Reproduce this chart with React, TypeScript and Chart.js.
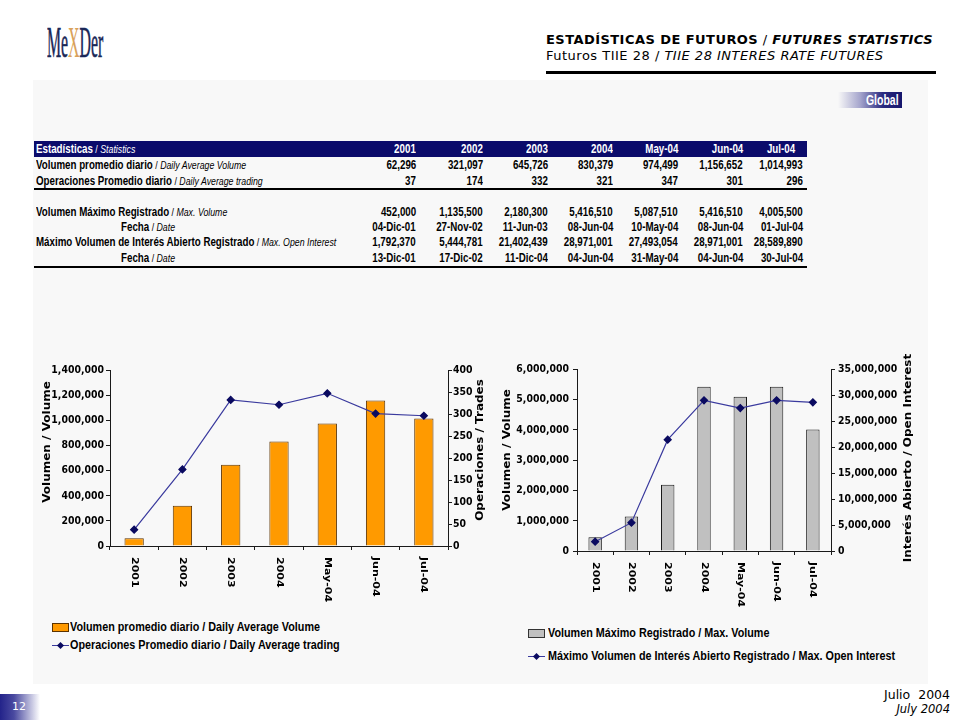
import React, { useEffect, useRef } from "react";
import { Chart, registerables } from "chart.js";

Chart.register(...registerables);

// ---------------- data ----------------
const categories = ["2001", "2002", "2003", "2004", "May-04", "Jun-04", "Jul-04"];
const dailyAvgVolume = [62296, 321097, 645726, 830379, 974499, 1156652, 1014993];
const dailyAvgTrading = [37, 174, 332, 321, 347, 301, 296];
const maxVolume = [452000, 1135500, 2180300, 5416510, 5087510, 5416510, 4005500];
const maxVolumeDate = ["04-Dic-01", "27-Nov-02", "11-Jun-03", "08-Jun-04", "10-May-04", "08-Jun-04", "01-Jul-04"];
const maxOpenInterest = [1792370, 5444781, 21402439, 28971001, 27493054, 28971001, 28589890];
const maxOpenInterestDate = ["13-Dic-01", "17-Dic-02", "11-Dic-04", "04-Jun-04", "31-May-04", "04-Jun-04", "30-Jul-04"];

const rowLabelsEs = [
  "Volumen promedio diario",
  "Operaciones Promedio diario",
  "Volumen Máximo Registrado",
  "Fecha",
  "Máximo Volumen de Interés Abierto Registrado",
  "Fecha",
];
const rowLabelsEn = [
  "Daily Average Volume",
  "Daily Average trading",
  "Max. Volume",
  "Date",
  "Max. Open Interest",
  "Date",
];

// axis ranges (ticks generated by Chart.js from these)
const leftVolMax = 1400000, leftVolStep = 200000;
const leftTradesMax = 400, leftTradesStep = 50;
const rightVolMax = 6000000, rightVolStep = 1000000;
const rightOIMax = 35000000, rightOIStep = 5000000;

// ---------------- helpers ----------------
const SANS = '"DejaVu Sans", Verdana, sans-serif';
const NARROW = '"Liberation Sans", Arial, sans-serif';
const NAVY = "#0b0b6b";
const SQ = 0.85;

const fmt = (n: number) => n.toLocaleString("en-US");

function drawText(
  ctx: CanvasRenderingContext2D,
  text: string,
  x: number,
  y: number,
  font: string,
  align: CanvasTextAlign,
  rot: number,
  sx: number,
  sy: number
) {
  ctx.save();
  ctx.translate(x, y);
  if (rot) ctx.rotate(rot);
  ctx.scale(sx, sy);
  ctx.font = font;
  ctx.fillStyle = "#000";
  ctx.textAlign = align;
  ctx.textBaseline = "middle";
  ctx.fillText(text, 0, 0);
  ctx.restore();
}

type ComboProps = {
  left: number;
  top: number;
  width: number;
  height: number;
  bars: number[];
  line: number[];
  barColor: string;
  barBorder: string;
  barPct: number;
  yMax: number;
  yStep: number;
  y1Max: number;
  y1Step: number;
  yW: number;
  y1W: number;
  padTop: number;
  padBottom: number;
  leftTitle: string;
  rightTitle: string;
  lt: [number, number];
  rt: [number, number];
  gapL: number;
  gapR: number;
  labelGap: number;
};

function ComboChart(p: ComboProps) {
  const ref = useRef<HTMLCanvasElement | null>(null);
  useEffect(() => {
    if (!ref.current) return;
    const axisColor = "#1a1a1a";
    const textPlugin = {
      id: "customText",
      afterDraw(chart: any) {
        const ctx = chart.ctx as CanvasRenderingContext2D;
        const ca = chart.chartArea;
        const xs = chart.scales.x;
        const ys = chart.scales.y;
        const y1 = chart.scales.y1;
        const tickFont = `bold 11px ${SANS}`;
        ys.ticks.forEach((t: any) => {
          drawText(ctx, fmt(t.value), ca.left - p.gapL, ys.getPixelForValue(t.value), tickFont, "right", 0, SQ, 1);
        });
        y1.ticks.forEach((t: any) => {
          drawText(ctx, fmt(t.value), ca.right + p.gapR, y1.getPixelForValue(t.value), tickFont, "left", 0, SQ, 1);
        });
        categories.forEach((c, i) => {
          drawText(ctx, c, xs.getPixelForTick(i), ca.bottom + p.labelGap, `bold 11px ${SANS}`, "left", Math.PI / 2, 1, SQ);
        });
        drawText(ctx, p.leftTitle, p.lt[0], p.lt[1], `bold 12px ${SANS}`, "center", -Math.PI / 2, 1, SQ);
        drawText(ctx, p.rightTitle, p.rt[0], p.rt[1], `bold 12px ${SANS}`, "center", -Math.PI / 2, 1, SQ);
      },
    };
    const chart = new Chart(ref.current, {
      type: "bar",
      data: {
        labels: categories,
        datasets: [
          {
            type: "line",
            data: p.line,
            yAxisID: "y1",
            borderColor: "#3a3a9e",
            borderWidth: 1.2,
            pointStyle: "rectRot",
            pointRadius: 3.5,
            pointBackgroundColor: "#0a0a60",
            pointBorderColor: "#0a0a60",
            tension: 0,
            order: 0,
          } as any,
          {
            type: "bar",
            data: p.bars,
            yAxisID: "y",
            backgroundColor: p.barColor,
            borderColor: p.barBorder,
            borderWidth: 1,
            barPercentage: p.barPct,
            categoryPercentage: 1,
            order: 1,
          } as any,
        ],
      },
      options: {
        animation: false,
        responsive: false,
        maintainAspectRatio: false,
        devicePixelRatio: 1,
        events: [],
        layout: { padding: { top: p.padTop, bottom: p.padBottom, left: 0, right: 0 } },
        plugins: { legend: { display: false }, tooltip: { enabled: false } },
        scales: {
          x: {
            type: "category",
            offset: true,
            grid: { offset: true, drawOnChartArea: false, drawTicks: true, tickLength: 4, color: axisColor },
            border: { display: true, color: axisColor, width: 1 },
            ticks: { display: false },
            afterFit: (s: any) => {
              s.height = 4;
            },
          },
          y: {
            position: "left",
            min: 0,
            max: p.yMax,
            ticks: { display: false, stepSize: p.yStep },
            grid: { drawOnChartArea: false, drawTicks: true, tickLength: 4, color: axisColor },
            border: { display: true, color: axisColor, width: 1 },
            afterFit: (s: any) => {
              s.width = p.yW;
            },
          },
          y1: {
            position: "right",
            min: 0,
            max: p.y1Max,
            ticks: { display: false, stepSize: p.y1Step },
            grid: { drawOnChartArea: false, drawTicks: true, tickLength: 4, color: axisColor },
            border: { display: true, color: axisColor, width: 1 },
            afterFit: (s: any) => {
              s.width = p.y1W;
            },
          },
        },
      } as any,
      plugins: [textPlugin as any],
    });
    return () => chart.destroy();
  }, []);
  return (
    <canvas
      ref={ref}
      width={p.width}
      height={p.height}
      style={{ position: "absolute", left: p.left, top: p.top, width: p.width, height: p.height, display: "block" }}
    />
  );
}

function Txt(props: any) {
  const {
    x,
    y,
    children,
    align = "left",
    size = 12.5,
    bold = false,
    italic = false,
    color = "#000",
    sx = 0.78,
    family = NARROW,
    lh = 16,
    ls = 0,
  } = props;
  const style: React.CSSProperties = {
    position: "absolute",
    top: y - lh / 2,
    height: lh,
    lineHeight: lh + "px",
    fontFamily: family,
    fontSize: size,
    fontWeight: bold ? 700 : 400,
    fontStyle: italic ? "italic" : "normal",
    color,
    whiteSpace: "pre",
    letterSpacing: ls,
    transform: `scaleX(${sx})`,
    transformOrigin: align === "left" ? "left center" : "right center",
  };
  if (align === "left") style.left = x;
  else style.right = 960 - x;
  return <div style={style}>{children}</div>;
}

const EnPart = ({ children }: any) => (
  <span style={{ fontWeight: 400, fontSize: "0.9em" }}>
    {" / "}
    <i>{children}</i>
  </span>
);

const colRight = [416, 483, 548, 613, 678, 743, 803];
const headerRight = [416, 483, 548, 613, 678, 743, 795];
const rowY = [165, 181, 212, 227, 242, 258];
const rowX = [36, 36, 36, 121, 36, 121];
const rowValues: string[][] = [
  dailyAvgVolume.map(fmt),
  dailyAvgTrading.map(fmt),
  maxVolume.map(fmt),
  maxVolumeDate,
  maxOpenInterest.map(fmt),
  maxOpenInterestDate,
];

function StatsTable() {
  return (
    <>
      <div style={{ position: "absolute", left: 34, top: 141, width: 773, height: 16, background: NAVY }} />
      <Txt x={36} y={149} bold color="#fff">
        Estadísticas<EnPart>Statistics</EnPart>
      </Txt>
      {categories.map((c, i) => (
        <Txt key={"h" + i} x={headerRight[i]} y={149} align="right" bold color="#fff">
          {c}
        </Txt>
      ))}
      {rowLabelsEs.map((es, r) => (
        <Txt key={"l" + r} x={rowX[r]} y={rowY[r]} bold>
          {es}
          <EnPart>{rowLabelsEn[r]}</EnPart>
        </Txt>
      ))}
      {rowValues.map((vals, r) =>
        vals.map((v, i) => (
          <Txt key={"v" + r + "_" + i} x={colRight[i]} y={rowY[r]} align="right" bold>
            {v}
          </Txt>
        ))
      )}
      <div style={{ position: "absolute", left: 34, top: 188, width: 773, height: 2, background: "#000" }} />
      <div style={{ position: "absolute", left: 34, top: 266, width: 773, height: 2, background: "#000" }} />
    </>
  );
}

function Swatch({ x, y, color, border }: any) {
  return (
    <div
      style={{
        position: "absolute",
        left: x,
        top: y - 4,
        width: 15,
        height: 7,
        background: color,
        border: `1px solid ${border}`,
      }}
    />
  );
}

function LineIcon({ x, y }: any) {
  return (
    <>
      <div style={{ position: "absolute", left: x, top: y, width: 17, height: 1, background: "#3a3a9e" }} />
      <div
        style={{
          position: "absolute",
          left: x + 6,
          top: y - 2,
          width: 5,
          height: 5,
          background: "#0a0a60",
          transform: "rotate(45deg)",
        }}
      />
    </>
  );
}

export default function App() {
  return (
    <div
      style={{
        position: "absolute",
        left: 0,
        top: 0,
        width: 960,
        height: 720,
        background: "#fff",
        overflow: "hidden",
        fontFamily: SANS,
      }}
    >
      {/* logo */}
      <div
        style={{
          position: "absolute",
          left: 47,
          top: 19,
          height: 48,
          lineHeight: "48px",
          fontFamily: '"Liberation Serif", "DejaVu Serif", serif',
          fontSize: 44,
          color: "#1a2858",
          whiteSpace: "nowrap",
          transform: "scaleX(0.36)",
          transformOrigin: "left top",
          WebkitTextStroke: "0.6px #1a2858",
        }}
      >
        Me<span style={{ color: "#d9a25a", WebkitTextStroke: "0px" }}>X</span>Der
      </div>

      {/* header */}
      <Txt x={546} y={40} family={SANS} size={13} sx={1} ls={0.45} bold>
        ESTADÍSTICAS DE FUTUROS<span style={{ fontWeight: 400 }}> / </span>
        <i>FUTURES STATISTICS</i>
      </Txt>
      <Txt x={546} y={56} family={SANS} size={13} sx={1} ls={0.5}>
        Futuros TIIE 28 / <i>TIIE 28 INTERES RATE FUTURES</i>
      </Txt>
      <div style={{ position: "absolute", left: 546, top: 71, width: 390, height: 3, background: "#000" }} />

      {/* panel */}
      <div style={{ position: "absolute", left: 33, top: 80, width: 895, height: 604, background: "#f8f8f8" }} />

      {/* Global badge */}
      <div
        style={{
          position: "absolute",
          left: 838,
          top: 92,
          width: 64,
          height: 16,
          background: "linear-gradient(to right, rgba(255,255,255,0) 0%, #a4a4cc 35%, #2a2a80 70%, #16166c 100%)",
        }}
      />
      <Txt x={899} y={100} align="right" bold color="#fff" size={14} sx={0.75}>
        Global
      </Txt>

      <StatsTable />

      {/* charts */}
      <ComboChart
        left={35}
        top={355}
        width={460}
        height={255}
        bars={dailyAvgVolume}
        line={dailyAvgTrading}
        barColor="#ff9a00"
        barBorder="#5c3300"
        barPct={0.4}
        yMax={leftVolMax}
        yStep={leftVolStep}
        y1Max={leftTradesMax}
        y1Step={leftTradesStep}
        yW={75}
        y1W={47}
        padTop={15}
        padBottom={60}
        leftTitle="Volumen / Volume"
        rightTitle="Operaciones / Trades"
        lt={[12, 87]}
        rt={[445, 95]}
        gapL={6}
        gapR={5}
        labelGap={11}
      />
      <ComboChart
        left={495}
        top={345}
        width={430}
        height={270}
        bars={maxVolume}
        line={maxOpenInterest}
        barColor="#c0c0c0"
        barBorder="#1a1a1a"
        barPct={0.37}
        yMax={rightVolMax}
        yStep={rightVolStep}
        y1Max={rightOIMax}
        y1Step={rightOIStep}
        yW={82}
        y1W={94}
        padTop={24}
        padBottom={60}
        leftTitle="Volumen / Volume"
        rightTitle="Interés Abierto / Open Interest"
        lt={[12, 105]}
        rt={[413, 113]}
        gapL={8}
        gapR={7}
        labelGap={11}
      />

      {/* legends */}
      <Swatch x={52} y={627} color="#ff9a00" border="#5c3300" />
      <Txt x={70} y={627} bold size={13} sx={0.83}>
        Volumen promedio diario / Daily Average Volume
      </Txt>
      <LineIcon x={52} y={645} />
      <Txt x={70} y={645} bold size={13} sx={0.83}>
        Operaciones Promedio diario / Daily Average trading
      </Txt>

      <Swatch x={528} y={633} color="#c0c0c0" border="#333" />
      <Txt x={548} y={633} bold size={13} sx={0.83}>
        Volumen Máximo Registrado / Max. Volume
      </Txt>
      <LineIcon x={528} y={656} />
      <Txt x={548} y={656} bold size={13} sx={0.83}>
        Máximo Volumen de Interés Abierto Registrado / Max. Open Interest
      </Txt>

      {/* footer */}
      <div
        style={{
          position: "absolute",
          left: 0,
          top: 694,
          width: 40,
          height: 26,
          background: "linear-gradient(to right, #23238a 0%, #4a4aa0 35%, #ffffff 100%)",
        }}
      />
      <Txt x={12} y={707} family={SANS} size={11} sx={1} color="#fff">
        12
      </Txt>
      <Txt x={950} y={695} align="right" family={SANS} size={12.5} sx={1}>
        {"Julio  2004"}
      </Txt>
      <Txt x={950} y={709} align="right" family={SANS} size={11.5} sx={1} italic>
        July 2004
      </Txt>
    </div>
  );
}
